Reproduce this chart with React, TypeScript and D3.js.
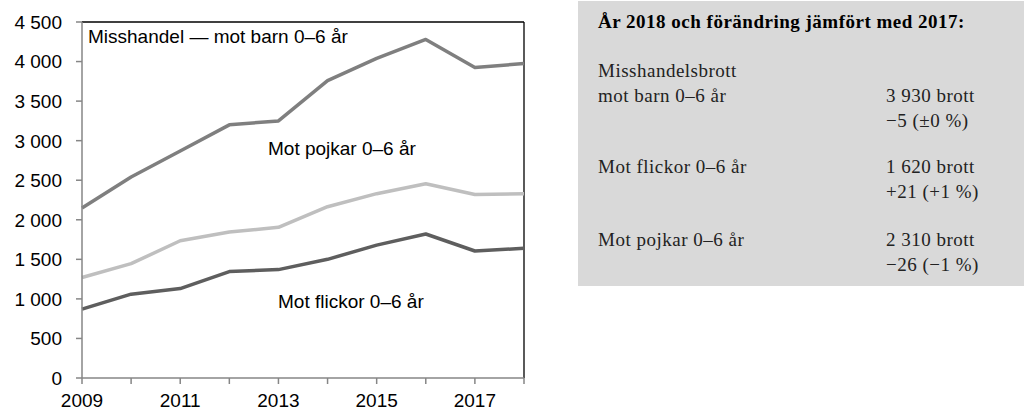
import React from "react";
import * as d3 from "d3";

const years = [2009, 2010, 2011, 2012, 2013, 2014, 2015, 2016, 2017, 2018];
const totalCases = [2150, 2540, 2870, 3200, 3250, 3760, 4040, 4280, 3925, 3975];
const boysCases = [1270, 1445, 1735, 1845, 1905, 2165, 2330, 2455, 2320, 2330];
const girlsCases = [870, 1060, 1130, 1345, 1370, 1500, 1680, 1820, 1605, 1640];
const yTicks = [0, 500, 1000, 1500, 2000, 2500, 3000, 3500, 4000, 4500];
const xLabelYears = [2009, 2011, 2013, 2015, 2017];

const summaryTitle = "År 2018 och förändring jämfört med 2017:";
const summaryNames = [["Misshandelsbrott", "mot barn 0–6 år"], ["Mot flickor 0–6 år"], ["Mot pojkar 0–6 år"]];
const summaryCounts = ["3 930 brott", "1 620 brott", "2 310 brott"];
const summaryChanges = ["−5 (±0 %)", "+21 (+1 %)", "−26 (−1 %)"];

const fmt = (v: number) => d3.format(",")(v).replace(/,/g, " ");

export default function App() {
  const left = 82, right = 524, top = 22, bottom = 378;
  const x = d3.scaleLinear().domain([2009, 2018]).range([left, right]);
  const y = d3.scaleLinear().domain([0, 4500]).range([bottom, top]);
  const line = d3.line<number>().x((_, i) => x(years[i])).y((d) => y(d));

  const series = [
    { values: totalCases, color: "#7f7f7f" },
    { values: boysCases, color: "#bfbfbf" },
    { values: girlsCases, color: "#5e5e5e" },
  ];

  const sans = "'Liberation Sans', Arial, sans-serif";
  const serif = "'Liberation Serif', 'Times New Roman', serif";
  const axisColor = "#868686";

  // summary rows: first row has two name lines
  const rowBaselines = [102, 173, 246];

  return (
    <svg width={1024} height={412} style={{ position: "absolute", left: 0, top: 0 }}>
      <rect x={left} y={top} width={right - left} height={bottom - top} fill="#fff" />
      {/* frame top and right */}
      <line x1={left} x2={right} y1={top} y2={top} stroke="#000" strokeWidth={1.3} />
      <line x1={right} x2={right} y1={top} y2={bottom} stroke="#000" strokeWidth={1.3} />

      {series.map((s, i) => (
        <path key={i} d={line(s.values) || ""} fill="none" stroke={s.color} strokeWidth={3.5} strokeLinejoin="round" />
      ))}

      {/* y axis */}
      <line x1={left} x2={left} y1={top} y2={bottom} stroke={axisColor} strokeWidth={1.5} />
      {yTicks.map((t) => (
        <g key={t}>
          <line x1={left - 6} x2={left} y1={y(t)} y2={y(t)} stroke={axisColor} strokeWidth={1.5} />
          <text x={62} y={y(t)} dy="0.36em" textAnchor="end" fontFamily={sans} fontSize={19} fill="#000">
            {fmt(t)}
          </text>
        </g>
      ))}

      {/* x axis */}
      <line x1={left} x2={right} y1={bottom} y2={bottom} stroke={axisColor} strokeWidth={1.5} />
      {years.map((yr) => (
        <line key={yr} x1={x(yr)} x2={x(yr)} y1={bottom} y2={bottom + 6} stroke={axisColor} strokeWidth={1.5} />
      ))}
      {xLabelYears.map((yr) => (
        <text key={yr} x={x(yr)} y={407} textAnchor="middle" fontFamily={sans} fontSize={19} fill="#000">
          {yr}
        </text>
      ))}

      {/* in-chart labels */}
      <text x={88} y={43} fontFamily={sans} fontSize={19} fill="#000">Misshandel — mot barn 0–6 år</text>
      <text x={268} y={155} fontFamily={sans} fontSize={19} fill="#000">Mot pojkar 0–6 år</text>
      <text x={278} y={308} fontFamily={sans} fontSize={19} fill="#000">Mot flickor 0–6 år</text>

      {/* summary box */}
      <rect x={578} y={1} width={446} height={285} fill="#d9d9d9" />
      <text x={598} y={28} fontFamily={serif} fontWeight="bold" fontSize={19} letterSpacing={0.5} fill="#000">
        {summaryTitle}
      </text>
      {summaryNames.map((names, i) => (
        <g key={i} fontFamily={serif} fontSize={19} letterSpacing={0.5} fill="#222">
          {names.map((n, j) => (
            <text key={j} x={598} y={rowBaselines[i] - (names.length - 1 - j) * 25}>{n}</text>
          ))}
          <text x={886} y={rowBaselines[i]}>{summaryCounts[i]}</text>
          <text x={886} y={rowBaselines[i] + 25}>{summaryChanges[i]}</text>
        </g>
      ))}
    </svg>
  );
}
